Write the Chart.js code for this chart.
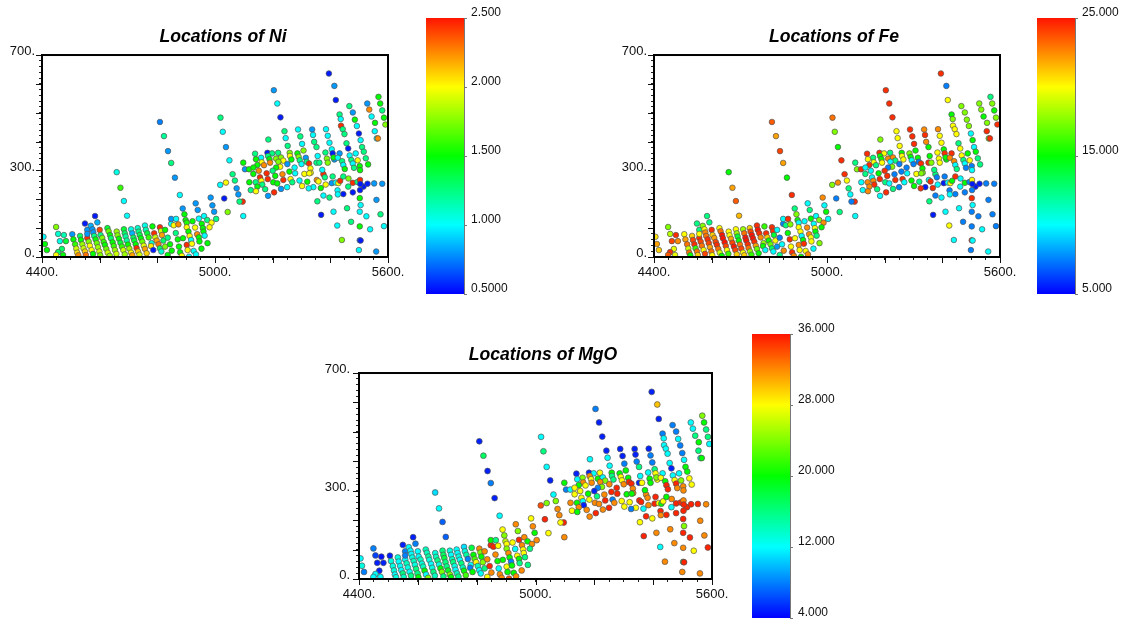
<!DOCTYPE html>
<html>
<head>
<meta charset="utf-8">
<title>Locations of Ni, Fe, MgO</title>
<script src="https://cdn.jsdelivr.net/npm/chart.js@4"></script>
<style>
html,body{margin:0;padding:0;background:#fff;width:1125px;height:624px;overflow:hidden}
canvas{position:absolute}
</style>
</head>
<body>
<canvas id="ni" style="left:0;top:0" width="446" height="287"></canvas>
<canvas id="fe" style="left:612px;top:0" width="444" height="287"></canvas>
<canvas id="mgo" style="left:317px;top:318px" width="452" height="291"></canvas>
<canvas id="niBar" style="left:426px;top:0" width="100" height="300"></canvas>
<canvas id="feBar" style="left:1037px;top:0" width="88" height="300"></canvas>
<canvas id="mgoBar" style="left:752px;top:317px" width="100" height="307"></canvas>
<script>
const eastings = [
4405,4410,4417,4449,4456,4476,4462,4483,4469,4456,4449,4473,
4505,4509,4515,4519,4522,4526,
4532,4535,4540,4544,4549,4552,
4557,4562,4566,4572,4577,
4557,4557,4569,4575,4578,
4549,4584,4592,4600,
4581,4586,4590,4594,4599,4602,
4603,4609,4614,4618,4623,4628,4635,
4627,4631,4636,4639,4645,4649,4653,4658,
4659,4662,4667,4672,4677,4682,4687,
4684,4687,4690,4694,4698,4703,4709,4713,
4709,4713,4717,4720,4725,4728,4733,4738,
4732,4735,4739,4743,4748,4753,4757,4763,
4757,4760,4765,4770,4780,4778,4786,
4783,4789,4793,4798,4804,4809,4814,
4809,4813,4816,4821,4827,
4659,4672,4684,4695,
4809,4823,4837,4848,4861,4878,
4827,4836,4844,4850,4836,4848,4848,4865,4857,4873,
4864,4871,4889,4875,4902,4905,4879,4885,4910,4888,
4894,4898,4902,4902,4908,4912,4917,4920,4926,4934,
4938,4944,4946,4931,4922,4933,4940,4944,4962,4973,
4988,4981,4954,4958,4960,4964,4974,4953,4985,4991,
4997,5004,5018,
5044,5032,5038,5069,5075,5081,5096,5085,5098,
5395,5414,5419,5204,5216,5227,5019,5027,5038,5050,5061,
5241,5245,5252,5185,5288,5296,5302,5307,5337,5340,
5344,5352,5385,5391,5397,5405,5432,5436,5437,5443,
5449,5456,5462,5466,5478,5485,5492,5499,5505,5510,
5516,5528,5535,5543,5555,5554,5561,5565,5567,5573,
5580,5586,5591,
5098,5139,5182,5198,5219,5184,5286,5259,5260,5265,
5290,5294,5300,5315,5318,5326,5331,5332,5356,5352,
5362,5383,5388,5391,5408,5414,5411,5432,5426,5441,
5445,5450,5467,5473,5478,5482,5488,5495,5502,5503,
5523,5531,
5104,5118,5160,5142,5162,5147,5170,5152,5133,5179,
5156,5183,5161,5141,5119,5164,5147,5124,5142,5174,
5184,5205,5209,5202,5216,5229,5250,5237,5234,5258,
5262,5268,5278,5293,5302,5320,5310,5327,5341,5325,
5353,5359,5367,5384,5376,5381,5372,5405,5408,5419,
5428,5434,5445,5463,5478,5462,5494,5503,5515,5504,
5529,5552,5580,5503,5478,5445,5425,5426,5376,5397,
5355,5368,5411,5458,5502,5505,5502,5525,5560,5574,
5472,5424,5502,5538,5586,5440,5502,5505,5499,5559,
5189,5212,5229,5237,5220,5226,5212,5191,5200,5251,5276,5133
];
const northings = [
70,45,24,104,80,76,55,55,28,17,7,7,
79,61,44,29,15,6,
73,59,44,30,19,7,
66,53,39,24,11,
94,80,108,96,85,
116,142,120,94,
73,61,48,34,19,6,
76,66,52,42,28,15,4,
100,89,76,65,51,38,24,11,
88,75,63,49,36,24,9,
96,82,71,57,43,29,15,6,
96,82,67,57,44,31,19,8,
100,88,76,65,53,39,28,13,
109,94,82,68,48,38,24,
106,82,68,57,44,30,19,
103,90,76,57,36,
294,240,194,143,
468,419,367,326,275,215,
94,67,44,22,7,115,132,132,110,113,
83,61,65,36,42,24,16,4,1,168,
148,128,119,103,88,73,59,46,21,9,
79,68,54,102,124,186,163,133,142,128,
119,103,115,100,88,74,48,29,206,179,
157,132,250,
156,203,258,265,238,217,192,192,142,
636,593,544,578,532,484,483,434,381,335,287,
436,412,385,407,442,418,392,369,442,423,
399,381,443,420,396,373,494,478,455,443,
426,394,376,523,501,476,454,428,405,381,
365,532,511,487,465,436,411,411,555,532,
508,483,459,
327,358,361,359,361,350,359,361,350,338,
347,335,322,344,330,324,307,292,350,327,
327,362,341,327,359,338,345,359,344,332,
319,305,352,336,324,309,359,335,315,301,
342,321,
304,304,344,339,328,319,318,299,288,290,
276,270,264,259,259,251,244,232,228,235,
212,224,281,259,255,236,242,267,287,296,
270,259,290,265,246,261,288,290,242,238,
267,262,239,251,287,276,302,256,279,258,
256,264,279,272,257,244,260,267,244,253,
254,255,254,232,224,218,231,217,213,206,
193,146,157,169,204,180,157,141,198,148,
122,109,106,96,107,59,58,57,24,19,
339,341,345,334,330,313,310,327,299,322,310,310
];
const niValues = [
1,1.5,1.5,1.75,1.1,1.15,1.05,1.4,1.3,1.3,2,1.5,
.8,1.5,1.6,1.9,2.05,2.25,
1.3,1.5,1.8,1.9,2.1,2.3,
2.45,1.75,2,2,1.5,
.8,.8,.85,.8,.8,
.55,.55,.85,2.4,
1.25,1.5,1.7,1.8,1.9,1.75,
1.25,1.75,1.6,1.5,1.7,1.9,1.8,
1.4,1.7,1.5,1.3,1.5,1.6,1.8,1.9,
1.8,1.75,1.5,1.4,1.6,1.9,1.8,
1.4,1.3,1.2,1.2,1.5,1.8,2,2.2,
1.05,.85,1.3,1.4,1.5,2.45,2.1,1.9,
1.1,1.25,1.35,1.5,1.7,1.95,2.2,2.1,
1.05,1.15,1.4,1.6,1.1,2.05,.55,
1.5,2.45,1.9,2.2,2.3,1.3,1.1,
2.45,1.9,2.2,1.3,1.75,
1.05,1.6,1,1,
.75,1.2,.8,1.25,.8,1,
1.5,1.25,1.5,1.5,1.5,1,.8,1,2,2.25,
1.25,1.5,1.5,1.5,2.45,2,1.5,2,1,.8,
1.5,1.5,1.55,2,1.5,2,1,2,1,1,
2.25,1.5,1.5,2,1.5,.8,.8,1,1,1.25,
2,2,1.5,1.5,1.5,1,1.5,1.5,.8,.8,
.8,1.25,1,
1.75,.55,2,1.25,.8,.8,2.45,1.25,1,
.55,.8,.55,.8,1,.55,1.25,1,.8,1,1.25,
1.25,1,1.25,1.25,1,1.25,1,1.75,.8,1,
1.25,1.25,1,1,1,1,1.25,1,2.45,1.25,
1.25,1.25,.55,1.25,.8,1.5,1,.55,1,1.25,
1.25,.8,2.25,1,1.5,1,1,2.25,1.5,1.5,
1.25,1.5,1.75,
1.5,1.25,.55,1.25,1.25,1.25,1.5,1.75,2,1.5,
1.75,1.25,1,.8,1.25,2.45,2,2,1,1.25,
1.25,1.25,1.75,1.75,.55,.8,1.5,.8,1,1.25,
1,1.5,1,1.25,1,1.25,1,2,1.5,1.5,
1.25,1.5,
.8,1.5,1,1.5,2,1.5,2.25,2.25,1.5,2.45,
2.45,2.45,2,1.25,1.5,1.25,1.5,1.25,2,1.25,
.8,2.45,1.5,1.5,1.5,.8,1,2.45,2.25,1.5,
2,1.25,1,1,2,1.5,2,2,1,1,
2.25,2,1.5,2,2.45,1.25,1,.8,1.25,1,
2,2.45,1.25,1.75,2.45,1.25,1.25,2.45,.55,.55,
.55,.8,.8,.55,.55,.55,1,1,1,1.25,
1.25,.55,1,1.25,1.5,1,1,1,.8,1.25,
1.25,1,1.5,1,1,1.75,.8,.55,1,.8,
1.5,1.75,1.75,2,1.75,2,1.5,2.25,1.25,.8,1,1.5
];
const feValues = [
20.5,22,21,17.5,18.5,24.5,24,22.5,19.5,24.5,23.5,19.5,
20,22,23,19,23,15,
21,24,24.5,16,23,21,
24.5,24,23,20,24,
12.5,20,17.5,20,22.5,
12.5,12.5,12.5,24.5,
23,24.5,24,22,23,20,
21,22,24,24.5,23,19,15,
20,23,25,25,25,24,20,16,
20,20,22,24,25,24,21,
20,18,14,15,23,24,20,21,
18,23,25,25,24.5,23,18,16,
21,24,25,25,24.5,22,17,15,
24.5,25,24.5,22.5,18,15,10,
16,24.5,21,15,17,13,10,
24.5,24.5,14,20,8,
15,22,23.5,21.5,
23.5,22,24,22,15,24.5,
10,7.5,10,22.5,12.5,7.5,10,24.5,12.5,17.5,
15,24.5,20,20,22.5,20,24.5,22.5,15,12.5,
17.5,15,10,20,20,10,15,24.5,20,22.5,
22.5,20,20,22.5,10,10,12.5,15,10,17.5,
22.5,15,10,20,15,12.5,17.5,10,22.5,10,
15,10,17.5,
12.5,7.5,22.5,20,12.5,10,24.5,7.5,10,
24.5,7.5,20,24.5,24.5,24.5,23,17.5,15,24.5,24.5,
20,20,20,17.5,24.5,24.5,24.5,15,22.5,24.5,
22.5,15,22.5,20,20,15,15,17.5,20,20,
20,12.5,20,17.5,17.5,17.5,17.5,10,15,10,
15,17.5,17.5,15,17.5,24.5,17.5,24.5,12.5,17.5,
15,17.5,24.5,
12.5,24.5,24.5,20,12.5,15,17.5,15,20,20,
15,10,7.5,15,7.5,24.5,15,17.5,15,24.5,
17.5,20,20,20,24.5,15,15,24.5,22.5,22.5,
10,12.5,20,12.5,10,7.5,15,20,7.5,10,
12.5,12.5,
17.5,24.5,12.5,20,20,24.5,12.5,10,12.5,15,
10,24.5,22.5,22.5,10,24.5,22.5,10,22.5,12.5,
10,24.5,24.5,12.5,10,12.5,7.5,24.5,7.5,7.5,
24.5,10,10,15,15,12.5,20,17.5,5.5,24.5,
10,24.5,24.5,10,12.5,7.5,12.5,5.5,7.5,10,
20,15,24.5,10,15,10,7.5,20,5.5,5.5,
5.5,7.5,7.5,7.5,7.5,7.5,7.5,10,7.5,10,
12.5,5.5,10,10,24.5,10,7.5,7.5,7.5,7.5,
7.5,20,7.5,10,7.5,10,24.5,10,7.5,10,
15,22.5,22.5,12.5,10,17.5,7.5,20,24.5,7.5,7.5,10
];
const mgoValues = [
12,13,8,8,6,4.5,5,5,5,12,12,12,
5,13,13,13,12,13,
13,12,12,12,16,14,
12,14,13,12,16,
8,8,12,12,12,
5,5,8,12,
13,14,13,16,16,20,
12,14,13,14,20,12,24,
14,14,15,13,12,13,16,14,
13,14,16,13,20,24,16,
16,17,18,16,16,19,24,20,
13,12,14,16,13,12,14,16,
12,12,13,12,16,14,20,22,
11,13,15,8,12,8,20,
18,20,22,28,14,12,12,
32,24,20,24,16,
11,12,7,7,
5,17,5,8,5,12,
32,32,35.5,32,28,35.5,20,16,35.5,28,
32,20,20,12,28,20,32,32,34,28,
24,26,28,24,32,20,8,20,20,32,
28,20,16,12,28,32,24,35.5,32,20,
32,16,32,28,28,16,16,32,28,32,
20,32,34,
28,35.5,24,24,32,32,35.5,28,32,
5,30,5,8,5,5,12,16,12,5,12,
5,12,12,12,5,5,8,20,5,5,
8,16,5,8,8,16,8,12,12,12,
12,12,5,8,8,12,8,8,12,20,
20,12,12,16,20,16,12,20,24,20,
16,16,12,
20,5,5,12,28,32,20,20,16,16,
28,28,32,20,35.5,35.5,32,32,12,5,
28,12,20,20,28,28,24,12,28,20,
35.5,35.5,12,28,35.5,32,12,24,32,32,
28,28,
8,12,24,12,32,20,28,28,28,20,
28,28,12,20,32,5,32,28,20,32,
32,35.5,16,32,32,32,35.5,35.5,32,35.5,
8,32,35.5,28,28,28,20,20,28,8,
35.5,35.5,12,32,32,32,20,35.5,35.5,28,
20,28,20,32,35.5,12,35.5,32,35.5,35.5,
35.5,35.5,32,35.5,35.5,35.5,35.5,32,35.5,28,
28,35.5,32,32,35.5,24,35.5,35.5,32,32,
32,12,32,28,35.5,32,16,35.5,32,32,
28,20,12,24,32,24,8,32,5,32,35.5,28
];
const xTickValues = [4400,4450,4500,4550,4600,4650,4700,4750,4800,4850,4900,4950,5000,5050,5100,5150,5200,5250,5300,5350,5400,5450,5500,5550,5600];
const xMajorTicks = [4400,4600,4800,5000,5200,5400,5600];
const xLabelled = [4400,5000,5600];
const yTickValues = [0,20,40,60,80,100,120,140,160,180,200,220,240,260,280,300,320,340,360,380,400,420,440,460,480,500,520,540,560,580,600,620,640,660,680,700];
const yMajorTicks = [0,100,200,300,400,500,600,700];
const yLabelled = [0,300,700];
const niBarTicks = [0.5,1,1.5,2,2.5];
const niBarLabels = ["0.5000","1.000","1.500","2.000","2.500"];
const feBarTicks = [5,15,25];
const feBarLabels = ["5.000","15.000","25.000"];
const mgoBarTicks = [4,12,20,28,36];
const mgoBarLabels = ["4.000","12.000","20.000","28.000","36.000"];
const FONT = '"Liberation Sans", Helvetica, Arial, sans-serif';
const stops = [[0,[0,0,255]],[0.25,[0,255,255]],[0.5,[0,255,0]],[0.75,[255,255,0]],[1,[255,20,0]]];
function ramp(f){
  f=Math.max(0,Math.min(1,f));
  for(let i=1;i<stops.length;i++){
    if(f<=stops[i][0]){
      const a=stops[i-1],b=stops[i],t=(f-a[0])/(b[0]-a[0]);
      return 'rgb('+a[1].map((c,k)=>Math.round(c+(b[1][k]-c)*t)).join(',')+')';
    }
  }
  return 'rgb(255,20,0)';
}
const frame = {
  id:'frame',
  afterDraw(chart){
    const {ctx,chartArea:a,scales:{x,y}}=chart;
    ctx.save();
    ctx.strokeStyle='#111';ctx.lineWidth=1;
    ctx.beginPath();
    xMajorTicks.forEach(v=>{const p=Math.round(x.getPixelForValue(v))+.5;ctx.moveTo(p,a.bottom);ctx.lineTo(p,a.bottom+6);});
    yMajorTicks.forEach(v=>{const p=Math.round(y.getPixelForValue(v))+.5;ctx.moveTo(a.left,p);ctx.lineTo(a.left-6,p);});
    ctx.stroke();
    ctx.lineWidth=2;ctx.strokeStyle='#000';
    ctx.strokeRect(a.left,a.top,a.right-a.left,a.bottom-a.top);
    ctx.restore();
  }
};
function scatter(id,title,values,lo,hi,pad,radius,labelGap){
  return new Chart(document.getElementById(id),{
    type:'scatter',
    data:{datasets:[{
      data:eastings.map((e,i)=>({x:e,y:northings[i]})),
      pointRadius:radius,pointHoverRadius:radius,
      pointBorderWidth:0.7,pointBorderColor:'#555',
      pointBackgroundColor:c=>ramp((values[c.dataIndex]-lo)/(hi-lo))
    }]},
    plugins:[frame],
    options:{
      responsive:false,animation:false,events:[],
      plugins:{
        legend:{display:false},tooltip:{enabled:false},
        title:{display:true,text:title,color:'#000',
          font:{family:FONT,size:17.6,weight:'bold',style:'italic',lineHeight:1.2},
          padding:{top:27,bottom:6.9}}
      },
      scales:{
        x:{type:'linear',min:4400,max:5600,position:'bottom',
          afterBuildTicks:s=>{s.ticks=xTickValues.map(v=>({value:v}));},
          afterFit:s=>{s.height=30;},
          grid:{drawOnChartArea:false,tickLength:3,tickColor:'#222',tickWidth:1},
          border:{color:'#000',width:2},
          ticks:{autoSkip:false,maxRotation:0,minRotation:0,padding:5,color:'#111',font:{family:FONT,size:13},
            callback:v=>xLabelled.includes(v)?v+'.':''}},
        y:{type:'linear',min:0,max:700,position:'left',
          afterBuildTicks:s=>{s.ticks=yTickValues.map(v=>({value:v}));},
          afterFit:s=>{s.width=42;},
          grid:{drawOnChartArea:false,tickLength:3,tickColor:'#222',tickWidth:1},
          border:{color:'#000',width:2},
          ticks:{autoSkip:false,labelOffset:-3.5,padding:labelGap,color:'#111',font:{family:FONT,size:13},
            callback:v=>yLabelled.includes(v)?v+'.':''}},
        spacer:{type:'linear',position:'right',
          afterFit:s=>{s.width=pad;},
          grid:{display:false},border:{display:false},ticks:{display:false}}
      }
    }
  });
}
function colorbar(id,lo,hi,tickVals,tickLabels,top,bottom,right,gap){
  return new Chart(document.getElementById(id),{
    type:'bar',
    data:{labels:[''],datasets:[{
      data:[[lo,hi]],categoryPercentage:1,barPercentage:1,borderWidth:0,
      backgroundColor:c=>{
        const ch=c.chart,s=ch.scales.y;
        if(!s||!ch.chartArea) return '#888';
        const g=ch.ctx.createLinearGradient(0,s.getPixelForValue(lo),0,s.getPixelForValue(hi));
        for(let i=0;i<=40;i++) g.addColorStop(i/40,ramp(i/40));
        return g;
      }
    }]},
    options:{
      responsive:false,animation:false,events:[],
      layout:{padding:{left:0,right:right,top:top,bottom:bottom}},
      plugins:{legend:{display:false},tooltip:{enabled:false},title:{display:false}},
      scales:{
        x:{display:false},
        y:{type:'linear',min:lo,max:hi,position:'right',
          afterBuildTicks:s=>{s.ticks=tickVals.map(v=>({value:v}));},
          afterFit:s=>{s.width=46;s.paddingTop=0;s.paddingBottom=0;},
          grid:{drawOnChartArea:false,tickLength:3,tickColor:'#777'},
          border:{color:'#777',width:1},
          ticks:{autoSkip:false,labelOffset:-5,padding:gap,color:'#111',font:{family:FONT,size:12},
            callback:v=>tickLabels[tickVals.indexOf(v)]}}
      }
    }
  });
}
scatter('ni','Locations of Ni',niValues,0.5,2.5,58,2.8,4);
scatter('fe','Locations of Fe',feValues,5,25,56,2.8,4);
scatter('mgo','Locations of MgO',mgoValues,4,36,57,2.9,6);
colorbar('niBar',0.5,2.5,niBarTicks,niBarLabels,18,6,16,4);
colorbar('feBar',5,25,feBarTicks,feBarLabels,18,6,4,4);
colorbar('mgoBar',4,36,mgoBarTicks,mgoBarLabels,17,6,16,5);
</script>
</body>
</html>
